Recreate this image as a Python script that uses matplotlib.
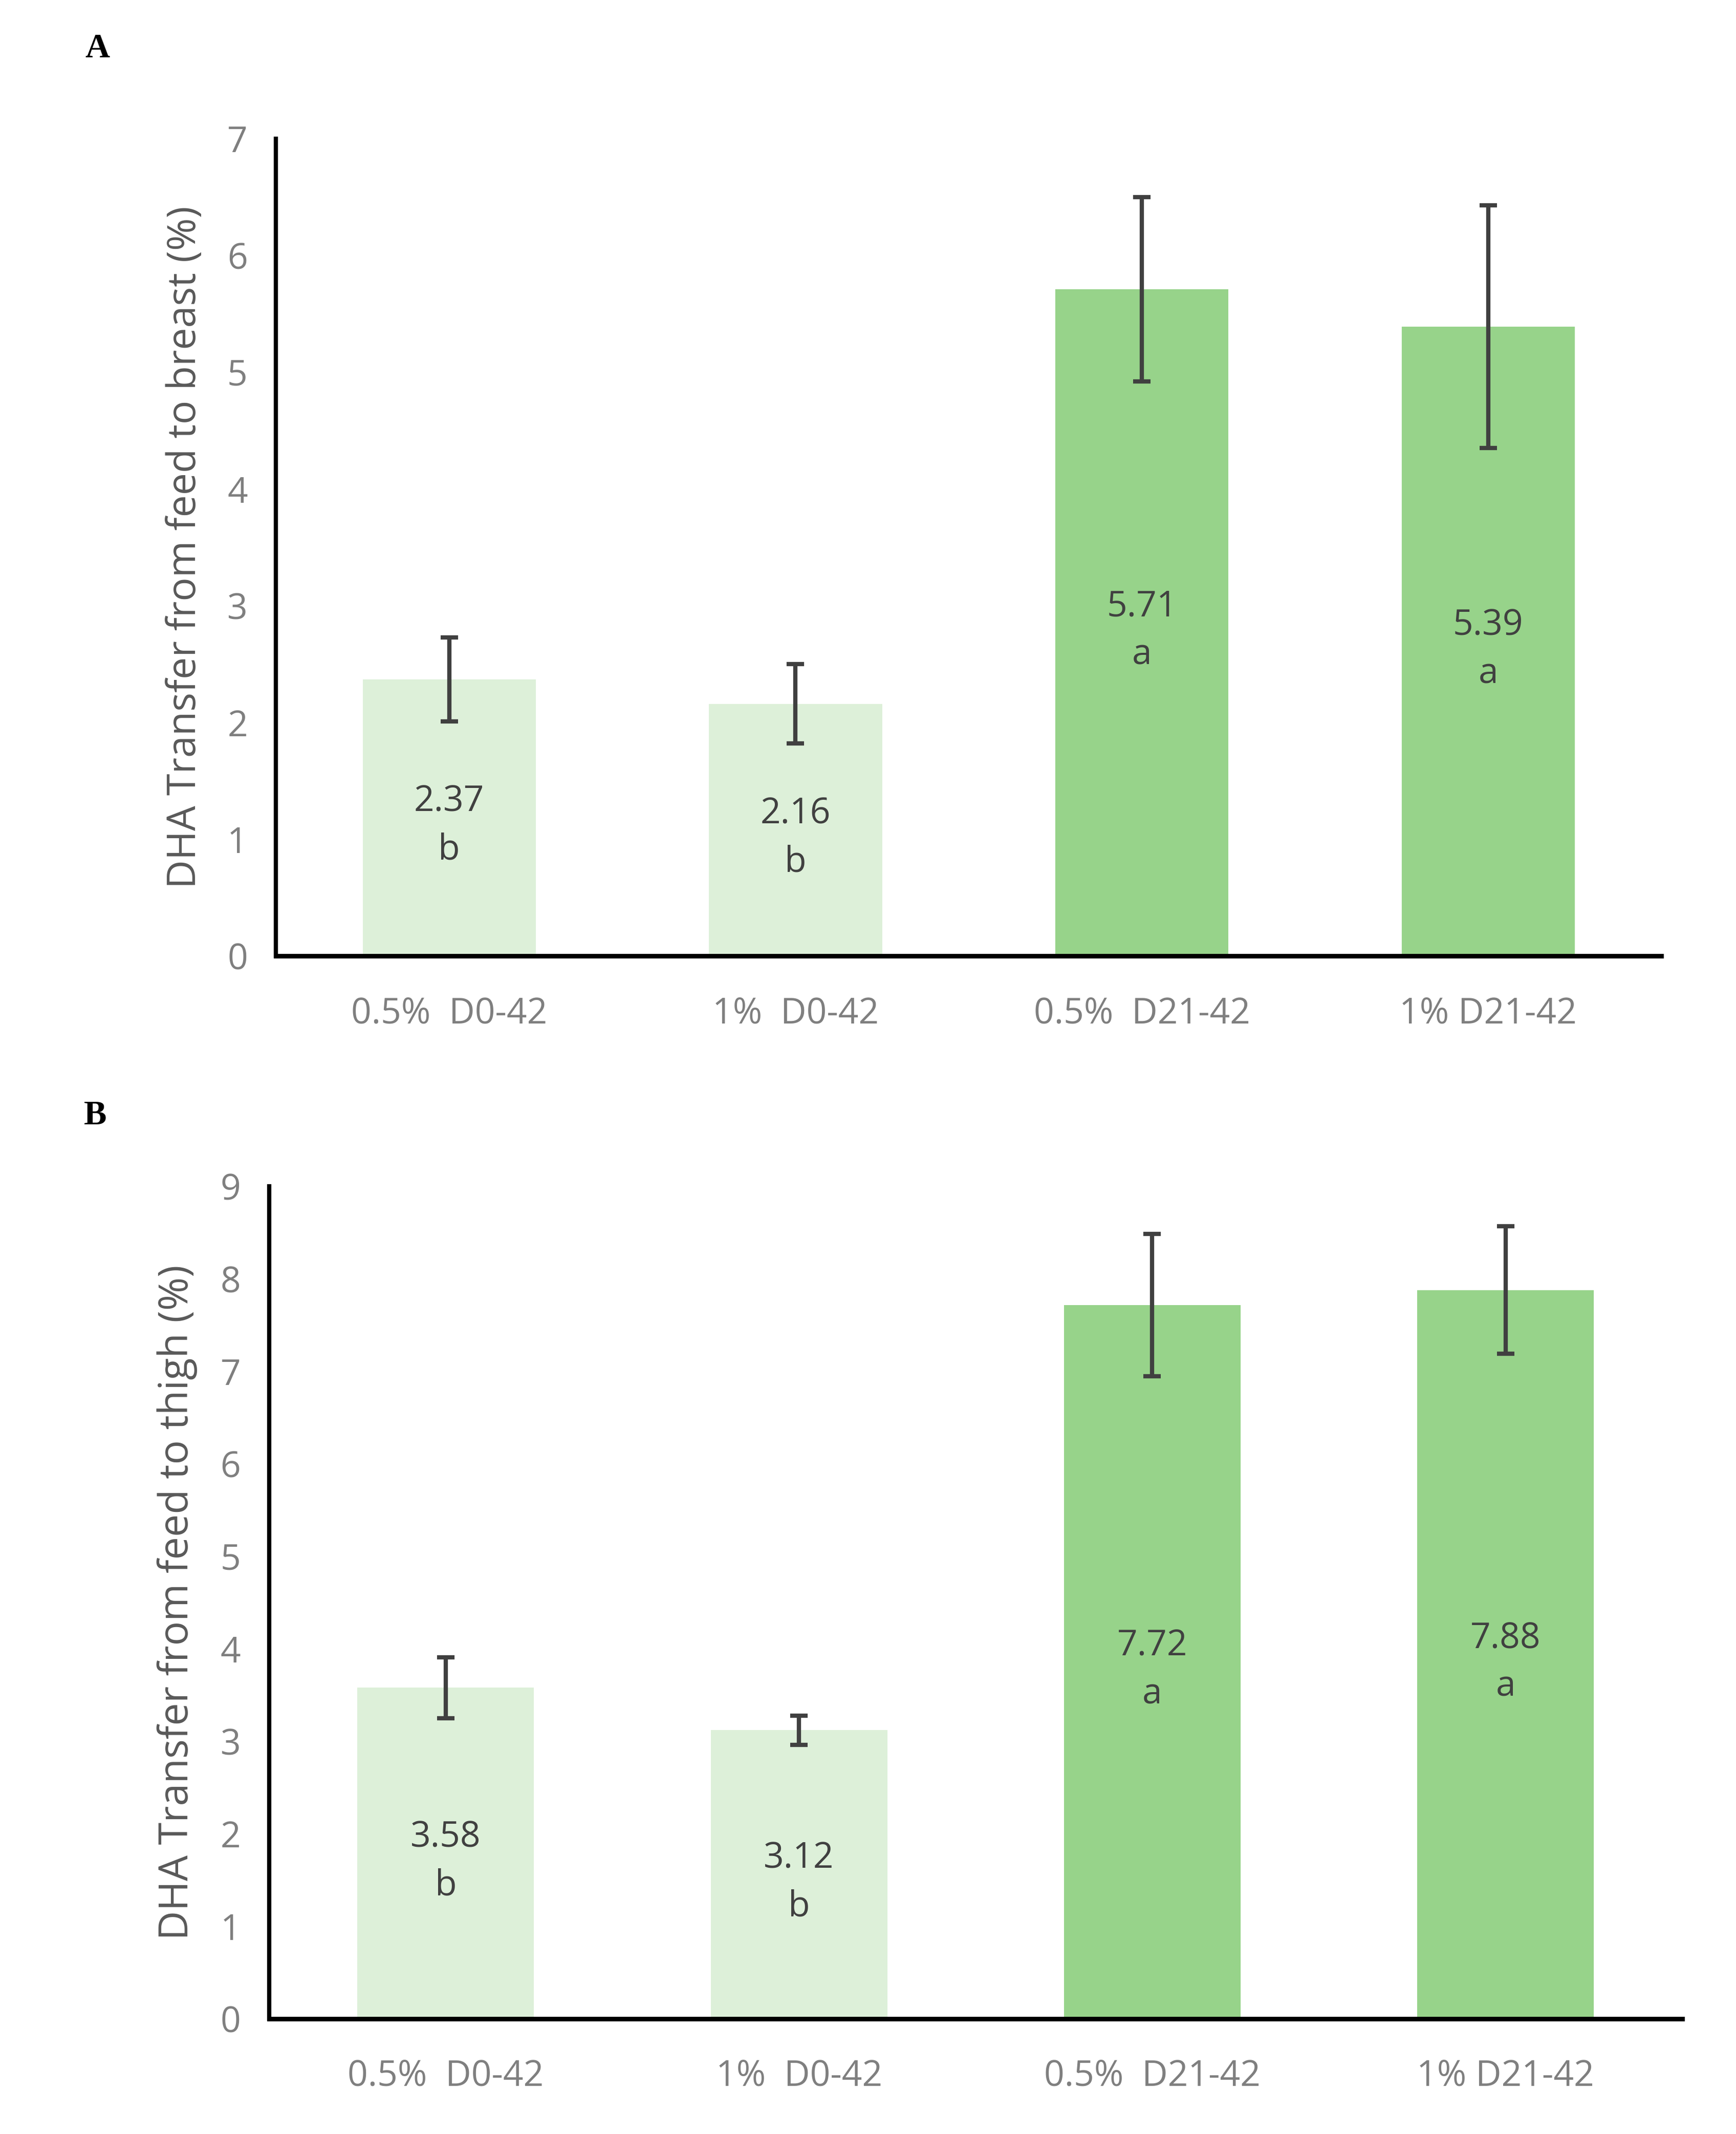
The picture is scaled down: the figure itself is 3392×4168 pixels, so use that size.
import matplotlib
matplotlib.use("Agg")
import matplotlib.pyplot as plt
import numpy as np

categories = ["0.5%  D0-42", "1%  D0-42", "0.5%  D21-42", "1% D21-42"]

breast_values = [2.37, 2.16, 5.71, 5.39]
breast_err = [0.36, 0.34, 0.79, 1.04]
breast_letters = ["b", "b", "a", "a"]

thigh_values = [3.58, 3.12, 7.72, 7.88]
thigh_err = [0.33, 0.16, 0.77, 0.69]
thigh_letters = ["b", "b", "a", "a"]

bar_colors = ["#ddf0d9", "#ddf0d9", "#97d38a", "#97d38a"]

FONT = ["Open Sans", "DejaVu Sans"]
TICK_GREY = "#7f7f7f"
TEXT_GREY = "#595959"
LABEL_DARK = "#404040"


def draw_panel(ax, values, err, letters, ymax, ylabel, ylabel_size):
    x = np.arange(len(categories))
    ax.bar(x, values, width=0.5, color=bar_colors, zorder=2)
    ax.errorbar(x, values, yerr=err, fmt="none", ecolor="#404040",
                elinewidth=3, capsize=6, capthick=3, zorder=3)
    for xi, v, l in zip(x, values, letters):
        ax.annotate(f"{v:.2f}\n{l}", (xi, v / 2), xytext=(0, -6),
                    textcoords="offset points", ha="center", va="center",
                    fontsize=25, color=LABEL_DARK, family=FONT,
                    linespacing=1.45, zorder=4)
    ax.set_xlim(-0.5, len(categories) - 0.5)
    ax.set_ylim(0, ymax)
    ax.set_yticks(range(0, ymax + 1))
    ax.set_xticks(x)
    ax.set_xticklabels(categories, family=FONT, fontsize=25, color=TICK_GREY)
    for t in ax.get_yticklabels():
        t.set_family(FONT)
        t.set_fontsize(25)
        t.set_color(TICK_GREY)
    ax.tick_params(axis="both", length=0)
    ax.tick_params(axis="x", pad=28)
    ax.tick_params(axis="y", pad=20)
    ax.spines["top"].set_visible(False)
    ax.spines["right"].set_visible(False)
    ax.spines["left"].set_linewidth(3)
    ax.spines["bottom"].set_linewidth(3.2)
    ax.set_ylabel(ylabel, family=FONT, fontsize=ylabel_size, color=TEXT_GREY,
                  labelpad=16)


fig = plt.figure(figsize=(16.96, 20.84), dpi=200)

ax_a = fig.add_axes([0.159, 0.552, 0.798, 0.383])
draw_panel(ax_a, breast_values, breast_err, breast_letters, 7,
           "DHA Transfer from feed to breast (%)", 27.8)

ax_b = fig.add_axes([0.155, 0.054, 0.814, 0.390])
draw_panel(ax_b, thigh_values, thigh_err, thigh_letters, 9,
           "DHA Transfer from feed to thigh (%)", 28.5)

fig.text(0.056, 0.977, "A", family=["Liberation Serif", "DejaVu Serif"],
         fontweight="bold", fontsize=24, ha="center", va="center")
fig.text(0.055, 0.477, "B", family=["Liberation Serif", "DejaVu Serif"],
         fontweight="bold", fontsize=24, ha="center", va="center")

fig.savefig("out.png", dpi=200, facecolor="white")
